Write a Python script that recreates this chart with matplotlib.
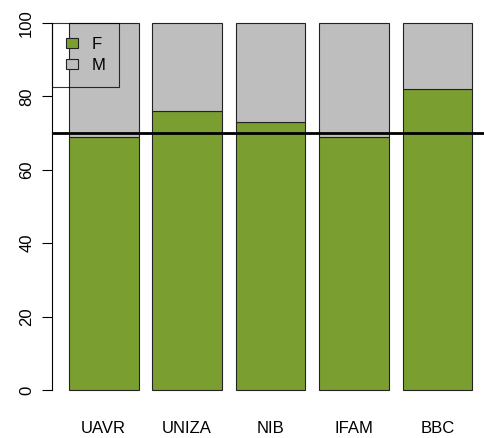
import numpy as np
import matplotlib
matplotlib.use('Agg')
import matplotlib.pyplot as plt

plt.rcParams['font.family'] = ['Liberation Sans', 'DejaVu Sans']

sites = ['UAVR', 'UNIZA', 'NIB', 'IFAM', 'BBC']
female = [69, 76, 73, 69, 82]
male = [31, 24, 27, 31, 18]
threshold = 70

green = '#7A9F30'
grey = '#BEBEBE'

fig = plt.figure(figsize=(4.85, 4.38), dpi=100)
ax = fig.add_axes([0.1078, 0.076, 0.929, 0.905])

x = np.arange(len(sites)) * 1.2 + 0.7
b1 = ax.bar(x, female, width=1, color=green, edgecolor='#222222', linewidth=0.8, label='F')
b2 = ax.bar(x, male, width=1, bottom=female, color=grey, edgecolor='#222222', linewidth=0.8, label='M')
ax.axhline(threshold, color='black', lw=2)

ax.set_xlim(-0.04, 6.44)
ax.set_ylim(-4, 104)
for s in ['top', 'right', 'bottom']:
    ax.spines[s].set_visible(False)
ax.spines['left'].set_bounds(0, 100)
ax.spines['left'].set_linewidth(0.8)

ax.set_yticks([0, 20, 40, 60, 80, 100])
ax.set_yticklabels(['0', '20', '40', '60', '80', '100'], rotation=90, va='center', fontsize=12)
ax.tick_params(axis='y', length=7, width=0.8, pad=6)
ax.set_xticks(x)
ax.set_xticklabels(sites, fontsize=12)
ax.tick_params(axis='x', length=0, pad=12)

leg = ax.legend(handles=[b1, b2], loc='upper left', bbox_to_anchor=(-0.04, 100),
                bbox_transform=ax.transData, fontsize=12, frameon=True, fancybox=False,
                facecolor='none', edgecolor='black', borderaxespad=0, borderpad=0.85,
                handlelength=0.7, handleheight=0.55, handletextpad=0.8, labelspacing=0.35)
leg.get_frame().set_linewidth(0.8)

fig.savefig('out.png', dpi=100)
